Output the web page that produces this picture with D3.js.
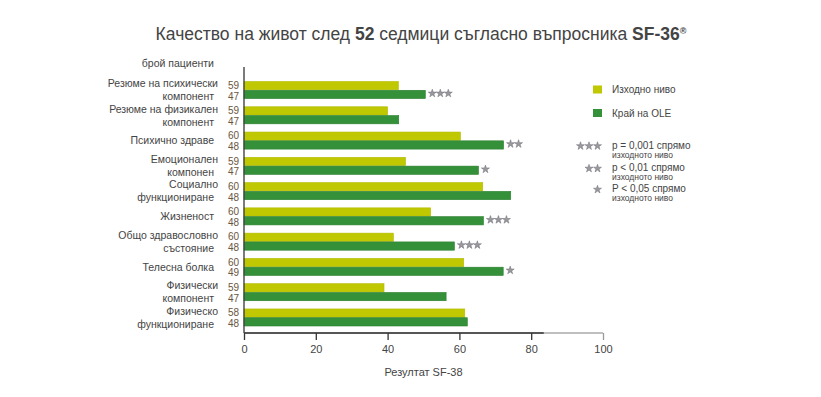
<!DOCTYPE html>
<html>
<head>
<meta charset="utf-8">
<script src="https://cdn.jsdelivr.net/npm/d3@7"></script>
<style>
  body { margin: 0; background: #fff; }
  svg { font-family: "Liberation Sans", Arial, sans-serif; }
</style>
</head>
<body>
<svg id="chart" width="821" height="397"></svg>
<script>
// categories (two lines where the source wraps them)
const categories = [
    ["Резюме на психически", "компонент"],
    ["Резюме на физикален", "компонент"],
    ["Психично здраве"],
    ["Емоционален", "компонен"],
    ["Социално", "функциониране"],
    ["Жизненост"],
    ["Общо здравословно", "състояние"],
    ["Телесна болка"],
    ["Физически", "компонент"],
    ["Физическо", "функциониране"]
]
const baseline = [43, 40, 60.3, 45, 66.5, 52, 41.6, 61.2, 39, 61.5]
const endOle = [50.5, 43.1, 72.3, 65.3, 74.3, 66.7, 58.6, 72.2, 56.3, 62.2]
const nBase = [59, 59, 60, 59, 60, 60, 60, 60, 59, 58]
const nOle = [47, 47, 48, 47, 48, 48, 48, 49, 47, 48]
const stars = [3, 0, 2, 1, 0, 3, 3, 1, 0, 0]
const xTicks = [0, 20, 40, 60, 80, 100]

const yellow = "#bfc800", green = "#34913a"
const textCol = "#444", numCol = "#6a5540", starCol = "#9a9a9a"

const svg = d3.select("#chart")
const margin = {top: 67, right: 218, bottom: 64, left: 244}
const width = 821, height = 397

const x = d3.scaleLinear().domain([0, 100]).range([margin.left, width - margin.right])
const y = d3.scaleBand().domain(d3.range(categories.length)).range([81.5, 326]).paddingInner(0.325)
const sub = d3.scaleBand().domain(["base", "ole"]).range([0, y.bandwidth()]).paddingInner(0.06)

// title
svg.append("text")
    .attr("x", 421).attr("y", 40)
    .attr("text-anchor", "middle")
    .attr("fill", textCol)
    .style("font-size", "17.5px")
    .call(t => {
        t.append("tspan").text("Качество на живот след ")
        t.append("tspan").attr("font-weight", "bold").text("52")
        t.append("tspan").text(" седмици съгласно въпросника ")
        t.append("tspan").attr("font-weight", "bold").text("SF-36")
        t.append("tspan").attr("font-weight", "bold").attr("dy", -6).style("font-size", "9px").text("®")
    })

svg.append("text")
    .attr("x", 214).attr("y", 67)
    .attr("text-anchor", "end")
    .attr("fill", textCol)
    .style("font-size", "10.5px")
    .text("брой пациенти")

// bars
const rows = svg.append("g").selectAll("g")
    .data(categories.map((c, i) => ({i, c, base: baseline[i], ole: endOle[i], nb: nBase[i], no: nOle[i], s: stars[i]})))
    .join("g")
    .attr("transform", d => `translate(0,${y(d.i)})`)

rows.append("rect")
    .attr("x", x(0)).attr("y", sub("base"))
    .attr("width", d => x(d.base) - x(0)).attr("height", sub.bandwidth())
    .attr("fill", yellow).attr("stroke", "#b3bb00").attr("stroke-width", 0.6)

rows.append("rect")
    .attr("x", x(0)).attr("y", sub("ole"))
    .attr("width", d => x(d.ole) - x(0)).attr("height", sub.bandwidth())
    .attr("fill", green).attr("stroke", "#2a7f2e").attr("stroke-width", 0.6)

// patient counts
rows.append("text")
    .attr("x", 239).attr("y", sub("base") + sub.bandwidth() / 2 - 0.5)
    .attr("dy", "0.36em").attr("text-anchor", "end")
    .attr("fill", numCol).style("font-size", "10px")
    .text(d => d.nb)
rows.append("text")
    .attr("x", 239).attr("y", sub("ole") + sub.bandwidth() / 2 + 1.5)
    .attr("dy", "0.36em").attr("text-anchor", "end")
    .attr("fill", numCol).style("font-size", "10px")
    .text(d => d.no)

// category labels
rows.each(function(d) {
    const g = d3.select(this)
    const mid = y.bandwidth() / 2
    const lines = d.c
    lines.forEach((line, k) => {
        const off = lines.length === 1 ? 0 : (k === 0 ? -6.5 : 6.5)
        g.append("text")
            .attr("x", k === 0 && lines.length > 1 ? 218 : 214)
            .attr("y", mid + off)
            .attr("dy", "0.36em").attr("text-anchor", "end")
            .attr("fill", textCol).style("font-size", "10.5px")
            .text(line)
    })
})

// significance stars
const starPath = d3.symbol().type(d3.symbolStar).size(20)()
rows.each(function(d) {
    const g = d3.select(this)
    for (let k = 0; k < d.s; k++) {
        g.append("path")
            .attr("d", starPath)
            .attr("transform", `translate(${x(d.ole) + 7 + k * 8},${sub("ole") + sub.bandwidth() / 2 - 1})`)
            .attr("fill", starCol).attr("stroke", "#6a6a7a").attr("stroke-width", 0.5)
    }
})

// x axis
const axisY = 333
svg.append("line")
    .attr("x1", x(0)).attr("x2", x(100)).attr("y1", axisY).attr("y2", axisY)
    .attr("stroke", "#aaa").attr("stroke-width", 1.4)
svg.append("line")
    .attr("x1", x(0)).attr("x2", x(83.5)).attr("y1", axisY).attr("y2", axisY)
    .attr("stroke", "#333").attr("stroke-width", 1.4)

const xAxis = g => g
    .attr("transform", `translate(0,${axisY})`)
    .call(d3.axisBottom(x).tickValues(xTicks).tickSize(7).tickPadding(5))
    .call(g => g.select(".domain").remove())
    .call(g => g.selectAll(".tick line").attr("stroke", (d) => d > 80 ? "#999" : "#333").attr("stroke-width", 1.3))
    .call(g => g.selectAll(".tick text").attr("fill", textCol).style("font-size", "11px")
        .style("font-family", "'Liberation Sans', Arial, sans-serif"))
svg.append("g").call(xAxis)

// y axis line
svg.append("line")
    .attr("x1", x(0)).attr("x2", x(0)).attr("y1", 67).attr("y2", axisY)
    .attr("stroke", "#444").attr("stroke-width", 1.4)

svg.append("text")
    .attr("x", x(50)).attr("y", 376)
    .attr("text-anchor", "middle")
    .attr("fill", textCol).style("font-size", "11px")
    .text("Резултат SF-38")

// legend
const legendSeries = [["Изходно ниво", yellow], ["Край на OLE", green]]
const leg = svg.append("g")
legendSeries.forEach(([label, col], i) => {
    leg.append("rect").attr("x", 593).attr("y", 85.5 + i * 23.5).attr("width", 9).attr("height", 8).attr("fill", col)
    leg.append("text").attr("x", 612).attr("y", 89.5 + i * 23.5).attr("dy", "0.36em")
        .attr("fill", textCol).style("font-size", "10px").text(label)
})

const legendStars = [[3, "p = 0,001 спрямо"], [2, "p < 0,01 спрямо"], [1, "P < 0,05 спрямо"]]
const legendStarY = [145, 167.5, 188.5]
legendStars.forEach(([n, label], i) => {
    const yy = legendStarY[i]
    for (let k = 0; k < n; k++) {
        leg.append("path").attr("d", starPath)
            .attr("transform", `translate(${597.5 - k * 8.5},${yy + 1})`)
            .attr("fill", starCol).attr("stroke", "#6a6a7a").attr("stroke-width", 0.5)
    }
    leg.append("text").attr("x", 612).attr("y", yy).attr("dy", "0.36em")
        .attr("fill", textCol).style("font-size", "10px").text(label)
    leg.append("text").attr("x", 612).attr("y", yy + 9.5).attr("dy", "0.36em")
        .attr("fill", textCol).style("font-size", "8.5px").text("изходното ниво")
})
</script>
</body>
</html>
